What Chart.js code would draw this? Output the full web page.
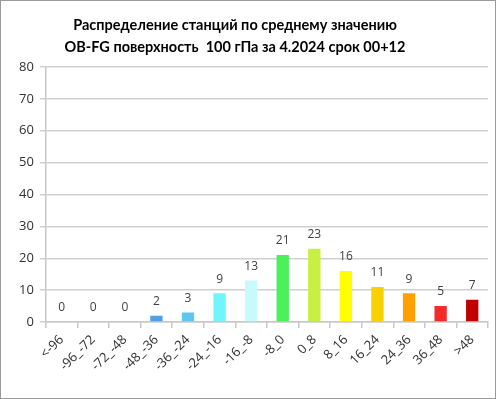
<!DOCTYPE html>
<html>
<head>
<meta charset="utf-8">
<script src="https://cdn.jsdelivr.net/npm/chart.js@4.4.1/dist/chart.umd.min.js"></script>
<style>
  html, body { margin: 0; padding: 0; background: #fff; }
  #box { width: 496px; height: 399px; box-sizing: border-box; border: 1px solid #9a9a9a; }
  #chart { display: block; }
</style>
</head>
<body>
<div id="box"><canvas id="chart" width="494" height="397"></canvas></div>
<script>
// Категории (интервалы OB-FG) и число станций
var categories = ["<-96", "-96_-72", "-72_-48", "-48_-36", "-36_-24", "-24_-16", "-16_-8",
  "-8_0", "0_8", "8_16", "16_24", "24_36", "36_48", ">48"];
var counts = [0, 0, 0, 2, 3, 9, 13, 21, 23, 16, 11, 9, 5, 7];
var barColors = ["#3a6fd0", "#3f86dc", "#4691e0", "#4f9ee6", "#5cc8f0", "#6ff5fb", "#c6fbfd",
  "#4cf05a", "#c8f040", "#ffff00", "#f9d000", "#ff9f00", "#f52a2a", "#c00000"];
var yTicks = [0, 10, 20, 30, 40, 50, 60, 70, 80];
var titleLines = ["Распределение станций по среднему значению", "OB-FG поверхность  100 гПа за 4.2024 срок 00+12"];

// заголовок (немного левее центра, как в оригинале)
var titleText = {
  id: "titleText",
  afterDraw: function (chart) {
    var ctx = chart.ctx;
    ctx.save();
    ctx.font = "bold 14.5px Lato, sans-serif";
    ctx.fillStyle = "#000";
    ctx.textAlign = "center";
    ctx.textBaseline = "middle";
    ctx.fillText(titleLines[0], 234, 24);
    ctx.fillText(titleLines[1], 234, 46);
    ctx.restore();
  }
};

// подписи значений над столбцами
var valueLabels = {
  id: "valueLabels",
  afterDatasetsDraw: function (chart) {
    var ctx = chart.ctx;
    var meta = chart.getDatasetMeta(0);
    ctx.save();
    ctx.font = "12px 'Open Sans', sans-serif";
    ctx.fillStyle = "#404040";
    ctx.textAlign = "center";
    ctx.textBaseline = "bottom";
    meta.data.forEach(function (bar, i) {
      ctx.fillText(String(counts[i]), bar.x, bar.y - 8);
    });
    ctx.restore();
  }
};

new Chart(document.getElementById("chart").getContext("2d"), {
  type: "bar",
  data: {
    labels: categories,
    datasets: [{
      data: counts,
      backgroundColor: barColors,
      barPercentage: 0.39,
      categoryPercentage: 1.0
    }]
  },
  options: {
    responsive: false,
    animation: false,
    layout: { padding: { left: 12, right: 7, top: 66, bottom: 20 } },
    plugins: {
      legend: { display: false },
      tooltip: { enabled: false },
      title: { display: false }
    },
    scales: {
      x: {
        grid: { offset: true, drawOnChartArea: false, color: "#c8c8c8", tickLength: 6, lineWidth: 1.5 },
        border: { color: "#c8c8c8", width: 1.5 },
        ticks: {
          color: "#303030",
          font: { family: "'Open Sans', sans-serif", size: 13 },
          maxRotation: 45, minRotation: 45, padding: 4
        }
      },
      y: {
        min: 0, max: 80,
        afterBuildTicks: function (axis) {
          axis.ticks = yTicks.map(function (v) { return { value: v }; });
        },
        grid: { color: "#d0d0d0", lineWidth: 1.5, tickLength: 6 },
        border: { color: "#c8c8c8", width: 1.5 },
        ticks: {
          color: "#303030",
          font: { family: "'Open Sans', sans-serif", size: 13 },
          padding: 6
        }
      }
    }
  },
  plugins: [valueLabels, titleText]
});
</script>
</body>
</html>
